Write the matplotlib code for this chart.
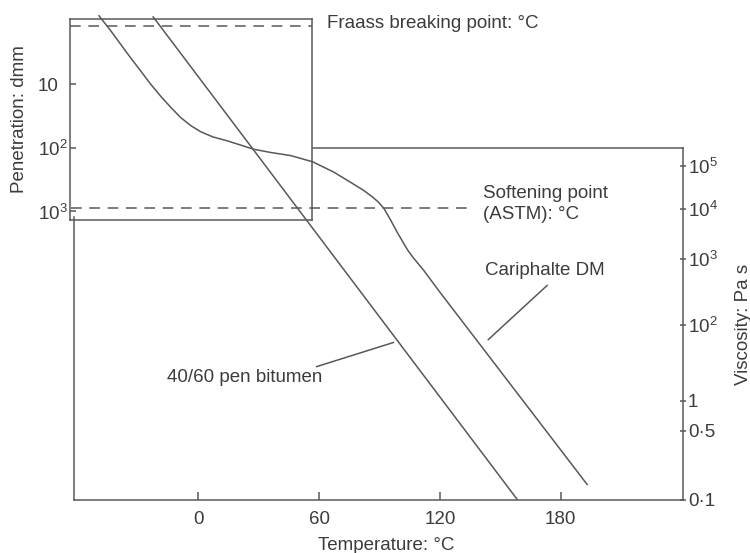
import numpy as np
import matplotlib
matplotlib.use("Agg")
import matplotlib.pyplot as plt
from matplotlib.ticker import FixedLocator, FixedFormatter, NullLocator

plt.rcParams['font.family'] = ['Liberation Sans', 'DejaVu Sans']
plt.rcParams['mathtext.fontset'] = 'custom'
plt.rcParams['mathtext.rm'] = 'Liberation Sans'
plt.rcParams['mathtext.it'] = 'Liberation Sans'
plt.rcParams['mathtext.bf'] = 'Liberation Sans'

# ---------------- data ----------------
temp_ticks = [0, 60, 120, 180]
temp_tick_labels = ['0', '60', '120', '180']

visc_ticks = [1e5, 1e4, 1e3, 1e2, 1, 0.5, 0.1]
visc_tick_labels = ['10$^5$', '10$^4$', '10$^3$', '10$^2$', '1', '0·5', '0·1']

pen_ticks = [10, 100, 1000]
pen_tick_labels = ['10', '10$^2$', '10$^3$']

fraass_pen = 1.2          # dmm, Fraass breaking point level
softening_visc = 1.05e4   # Pa s level of the softening point line

# 40/60 pen bitumen (straight line on the chart)
pen4060_temp = [-22.6, 158.4]
pen4060_visc = [2.95e8, 0.1]

# Cariphalte DM
cariphalte_temp = [-49.3, -43.4, -35.0, -28.5, -23.6, -18.6, -13.6, -8.7, -3.7, 1.2,
                   7.2, 14.6, 21.1, 27.5, 35.9, 45.9, 56.8, 67.2, 75.6, 82.1,
                   86.5, 89.5, 92.2, 95.4, 98.9, 103.9, 106.8, 111.8, 119.2, 193.1]
cariphalte_visc = [3.04e8, 1.35e8, 3.92e7, 1.56e7, 7.76e6, 4.06e6, 2.24e6, 1.30e6, 8.45e5, 6.10e5,
                   4.63e5, 3.72e5, 2.98e5, 2.39e5, 2.01e5, 1.70e5, 1.22e5, 7.05e4, 4.08e4, 2.64e4,
                   1.86e4, 1.40e4, 1.0e4, 6.0e3, 3.28e3, 1.49e3, 1.03e3, 671, 332, 0.142]

# leader lines (temperature, viscosity)
leader_cariphalte = ([173.2, 144.0], [390, 40])
leader_4060 = ([58.8, 96.9], [7.8, 33.6])

# ---------------- chart viscosity scale (non-uniform, as printed) ----------------
SCALE_LOG = np.array([-1.0, np.log10(0.5), 0.0, 2.0, 3.0, 4.0, 5.0])
SCALE_POS = np.array([0.0, 69.0, 99.0, 175.0, 241.0, 291.0, 334.0])
TOP_SLOPE = (SCALE_POS[-1] - SCALE_POS[-2]) / (SCALE_LOG[-1] - SCALE_LOG[-2])
BOT_SLOPE = (SCALE_POS[1] - SCALE_POS[0]) / (SCALE_LOG[1] - SCALE_LOG[0])


def visc_forward(v):
    v = np.asarray(v, dtype=float)
    L = np.log10(np.clip(v, 1e-30, None))
    h = np.interp(L, SCALE_LOG, SCALE_POS)
    h = np.where(L > SCALE_LOG[-1], SCALE_POS[-1] + (L - SCALE_LOG[-1]) * TOP_SLOPE, h)
    h = np.where(L < SCALE_LOG[0], SCALE_POS[0] + (L - SCALE_LOG[0]) * BOT_SLOPE, h)
    return h


def visc_inverse(h):
    h = np.asarray(h, dtype=float)
    L = np.interp(h, SCALE_POS, SCALE_LOG)
    L = np.where(h > SCALE_POS[-1], SCALE_LOG[-1] + (h - SCALE_POS[-1]) / TOP_SLOPE, L)
    L = np.where(h < SCALE_POS[0], SCALE_LOG[0] + (h - SCALE_POS[0]) / BOT_SLOPE, L)
    return 10.0 ** L


W, H = 750, 553
fig = plt.figure(figsize=(W / 100, H / 100), dpi=100)

def fx(x):
    return x / W

def fy(y):
    return 1 - y / H

LINE = '#585858'
TXT = '#3c3c3c'
LW = 1.1
FS = 13.5

# main (viscosity) axes
m_left, m_right, m_top, m_bot = 74, 683, 147.5, 499.5
ax = fig.add_axes([fx(m_left), fy(m_bot), (m_right - m_left) / W, (m_bot - m_top) / H])
ax.set_facecolor('none')
ax.set_yscale('function', functions=(visc_forward, visc_inverse))
ax.set_xlim(-61.7, 240.7)
ax.set_ylim(0.1, visc_inverse(352.0))

for s in ax.spines.values():
    s.set_color(LINE)
    s.set_linewidth(LW)
ax.spines['top'].set_bounds(56.8, 240.7)
ax.spines['left'].set_bounds(0.1, 6.9e3)

ax.xaxis.set_major_locator(FixedLocator(temp_ticks))
ax.xaxis.set_major_formatter(FixedFormatter(temp_tick_labels))
ax.xaxis.set_minor_locator(NullLocator())
ax.yaxis.set_major_locator(FixedLocator(visc_ticks))
ax.yaxis.set_major_formatter(FixedFormatter(visc_tick_labels))
ax.yaxis.set_minor_locator(NullLocator())
ax.yaxis.set_ticks_position('right')
ax.tick_params(axis='x', direction='in', length=6, width=LW, color=LINE,
               labelsize=FS, labelcolor=TXT, pad=8.5)
ax.tick_params(axis='y', direction='inout', length=5, width=LW, color=LINE,
               labelsize=FS, labelcolor=TXT, pad=1)

# curves
ax.plot(pen4060_temp, pen4060_visc, color=LINE, lw=LW, clip_on=False, solid_capstyle='butt')
ax.plot(cariphalte_temp, cariphalte_visc, color=LINE, lw=LW, clip_on=False,
        solid_joinstyle='round')
# softening point line
ax.plot([-63.2, 135.1], [softening_visc, softening_visc], color=LINE, lw=LW,
        ls=(0, (7, 5)), clip_on=False)
# leaders
ax.plot(*leader_cariphalte, color=LINE, lw=LW, clip_on=False)
ax.plot(*leader_4060, color=LINE, lw=LW, clip_on=False)

# penetration box
p_left, p_right, p_top, p_bot = 70, 312, 19, 219.5
axp = fig.add_axes([fx(p_left), fy(p_bot), (p_right - p_left) / W, (p_bot - p_top) / H])
axp.set_facecolor('none')
axp.set_yscale('log')
axp.set_ylim(1337, 0.946)
axp.set_xlim(0, 1)
for s in axp.spines.values():
    s.set_color(LINE)
    s.set_linewidth(LW)
axp.xaxis.set_major_locator(NullLocator())
axp.xaxis.set_minor_locator(NullLocator())
axp.yaxis.set_major_locator(FixedLocator(pen_ticks))
axp.yaxis.set_major_formatter(FixedFormatter(pen_tick_labels))
axp.yaxis.set_minor_locator(NullLocator())
axp.tick_params(axis='y', direction='in', length=4.5, width=LW, color=LINE,
                labelsize=FS, labelcolor=TXT, pad=23)
for lab in axp.get_yticklabels():
    lab.set_horizontalalignment('left')
axp.axhline(fraass_pen, color=LINE, lw=LW, ls=(0, (7, 5)))

# texts
fig.text(fx(327), fy(23), 'Fraass breaking point: °C', fontsize=FS, color=TXT,
         ha='left', va='center')
fig.text(fx(483), fy(204), 'Softening point\n(ASTM): °C', fontsize=FS, color=TXT,
         ha='left', va='center', linespacing=1.38)
fig.text(fx(485), fy(270), 'Cariphalte DM', fontsize=FS, color=TXT, ha='left', va='center')
fig.text(fx(167), fy(377), '40/60 pen bitumen', fontsize=FS, color=TXT, ha='left', va='center')
fig.text(fx(386), fy(545), 'Temperature: °C', fontsize=FS, color=TXT, ha='center', va='center')
fig.text(fx(20), fy(119), 'Penetration: dmm', fontsize=FS, color=TXT, ha='center',
         va='center', rotation=90)
fig.text(fx(743), fy(324), 'Viscosity: Pa s', fontsize=FS, color=TXT, ha='center',
         va='center', rotation=90)

fig.savefig('out.png', dpi=100)
